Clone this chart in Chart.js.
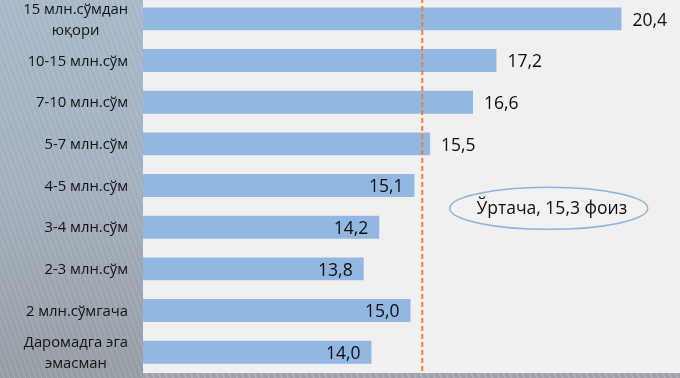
<!DOCTYPE html>
<html><head><meta charset="utf-8">
<script src="https://cdn.jsdelivr.net/npm/chart.js@4/dist/chart.umd.min.js"></script>
<style>
html,body{margin:0;padding:0;width:680px;height:378px;overflow:hidden;background:#f0f0f0;}
#panel{position:absolute;left:0;top:0;width:143px;height:378px;
 background:
  repeating-linear-gradient(70deg, rgba(255,255,255,0) 0px, rgba(255,255,255,0) 3px, rgba(255,255,255,0.15) 4px, rgba(255,255,255,0) 5px),
  linear-gradient(to bottom, #a8b8c8 0%, #a2afbd 50%, #969ca4 100%);}
#plotbg{position:absolute;left:143px;top:0;width:537px;height:373px;background:#f0f0f0;}
#strip{position:absolute;left:143px;top:373px;width:537px;height:5px;
 background: repeating-linear-gradient(70deg, #9ea2a8 0px, #9ea2a8 3px, #b3b6ba 4px, #9ea2a8 6px);}
#wrap{position:absolute;left:0;top:-2px;width:680px;height:375px;}
</style></head>
<body>
<div id="panel"></div><div id="plotbg"></div><div id="strip"></div>
<div id="wrap"><canvas id="c"></canvas></div>
<script>
const categories = [
  ["15 млн.сўмдан","юқори"],
  ["10-15 млн.сўм"],
  ["7-10 млн.сўм"],
  ["5-7 млн.сўм"],
  ["4-5 млн.сўм"],
  ["3-4 млн.сўм"],
  ["2-3 млн.сўм"],
  ["2 млн.сўмгача"],
  ["Даромадга эга","эмасман"]
];
const values = [20.4, 17.2, 16.6, 15.5, 15.1, 14.2, 13.8, 15.0, 14.0];
const average = 15.3;
const averageLabel = "Ўртача, 15,3 фоиз";

const fmt = v => v.toFixed(1).replace('.', ',');

const overlay = {
  id: 'overlay',
  afterDatasetsDraw(chart) {
    const ctx = chart.ctx, xs = chart.scales.x, ys = chart.scales.y, ca = chart.chartArea;
    // category labels
    ctx.save();
    ctx.fillStyle = '#121212';
    ctx.font = '14.8px "Open Sans"';
    ctx.textBaseline = 'middle';
    ctx.textAlign = 'center';
    categories.forEach((lines, i) => {
      const y = ys.getPixelForValue(i);
      const w = Math.max(...lines.map(l => ctx.measureText(l).width));
      const cx = 128 - w / 2;
      const lh = 21;
      lines.forEach((l, k) => {
        ctx.fillText(l, cx, y + (k - (lines.length - 1) / 2) * lh + 1);
      });
    });
    ctx.restore();
    // average dashed line
    const ax = xs.getPixelForValue(average);
    ctx.save();
    ctx.strokeStyle = '#ed7d31';
    ctx.lineWidth = 2;
    ctx.setLineDash([5, 3]);
    ctx.beginPath();
    ctx.moveTo(ax, 0);
    ctx.lineTo(ax, ca.bottom);
    ctx.stroke();
    ctx.restore();
    // data labels
    ctx.save();
    ctx.fillStyle = '#0d0d0d';
    ctx.font = '17.5px "Open Sans"';
    ctx.textBaseline = 'middle';
    const meta = chart.getDatasetMeta(0);
    values.forEach((v, i) => {
      const bar = meta.data[i];
      const y = bar.y + 2;
      if (v > average) {
        ctx.textAlign = 'left';
        ctx.fillText(fmt(v), bar.x + 11, y);
      } else {
        ctx.textAlign = 'right';
        ctx.fillText(fmt(v), bar.x - 11, y);
      }
    });
    ctx.restore();
    // average ellipse
    const ex = xs.getPixelForValue(18.54);
    const ey = (ys.getPixelForValue(4) + ys.getPixelForValue(5)) / 2 + 2;
    ctx.save();
    ctx.beginPath();
    ctx.ellipse(ex, ey, 99, 21, 0, 0, Math.PI * 2);
    ctx.fillStyle = '#f2f2f2';
    ctx.fill();
    ctx.strokeStyle = '#8fb2da';
    ctx.lineWidth = 1.5;
    ctx.stroke();
    ctx.fillStyle = '#0d0d0d';
    ctx.font = '17.5px "Open Sans"';
    ctx.textAlign = 'center';
    ctx.textBaseline = 'middle';
    ctx.fillText(averageLabel, ex + 3, ey + 1);
    ctx.restore();
  }
};

new Chart(document.getElementById('c'), {
  type: 'bar',
  data: {
    labels: categories.map(c => c.join(' ')),
    datasets: [{
      data: values,
      backgroundColor: '#92b8e1',
      borderWidth: 0,
      barPercentage: 0.55,
      categoryPercentage: 1.0
    }]
  },
  options: {
    indexAxis: 'y',
    responsive: true,
    maintainAspectRatio: false,
    animation: false,
    layout: { padding: { left: 143, right: 0, top: 0, bottom: 0 } },
    plugins: { legend: { display: false }, tooltip: { enabled: false } },
    scales: {
      x: { display: false, min: 8.15, max: 21.9 },
      y: { display: false, offset: true }
    }
  },
  plugins: [overlay]
});
</script>
</body></html>
